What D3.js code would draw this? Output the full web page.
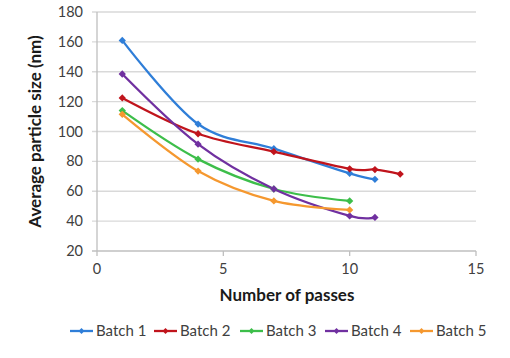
<!DOCTYPE html>
<html><head><meta charset="utf-8">
<script src="https://cdn.jsdelivr.net/npm/d3@7"></script>
<style>body{margin:0;background:#fff}svg{display:block}text{font-family:Lato,"Open Sans",sans-serif;fill:#404040}</style>
</head><body>
<svg id="c" width="510" height="358"></svg>
<script>
const seriesNames = ["Batch 1","Batch 2","Batch 3","Batch 4","Batch 5"];
const colors = ["#2F7ED8","#C0141C","#3DBE4A","#7030A0","#F5982F"];
const batch1X = [1,4,7,10,11];        const batch1Y = [161,105,88.5,72,68];
const batch2X = [1,4,7,10,11,12];     const batch2Y = [122.5,98.5,86.5,75,74.5,71.5];
const batch3X = [1,4,7,10];           const batch3Y = [114,81.5,61.5,53.5];
const batch4X = [1,4,7,10,11];        const batch4Y = [138.5,91.5,61.5,43.5,42.5];
const batch5X = [1,4,7,10];           const batch5Y = [111.5,73.5,53.5,47.5];
const xTicks = [0,5,10,15];
const yTicks = [20,40,60,80,100,120,140,160,180];
const xTitle = "Number of passes";
const yTitle = "Average particle size (nm)";

const allX = [batch1X,batch2X,batch3X,batch4X,batch5X];
const allY = [batch1Y,batch2Y,batch3Y,batch4Y,batch5Y];
const series = seriesNames.map((n,i)=>({name:n,color:colors[i],pts:allX[i].map((x,j)=>[x,allY[i][j]])}));

const svg = d3.select("#c");
const L=97,R=476,T=12,B=251;
const x = d3.scaleLinear().domain([0,15]).range([L,R]);
const y = d3.scaleLinear().domain([20,180]).range([B,T]);

svg.append("g").selectAll("line").data(yTicks).join("line")
  .attr("x1",L-5).attr("x2",R).attr("y1",d=>y(d)).attr("y2",d=>y(d))
  .attr("stroke",d=>d===20?"#BFBFBF":"#D9D9D9").attr("stroke-width",1.3);
svg.append("line").attr("x1",L).attr("x2",L).attr("y1",T).attr("y2",B).attr("stroke","#BFBFBF").attr("stroke-width",1.3);
svg.append("g").selectAll("line").data(xTicks).join("line")
  .attr("x1",d=>x(d)).attr("x2",d=>x(d)).attr("y1",B).attr("y2",B+5).attr("stroke","#BFBFBF").attr("stroke-width",1.3);

svg.append("g").selectAll("text").data(yTicks).join("text")
  .attr("x",L-14).attr("y",d=>y(d)).attr("dy","0.35em").attr("text-anchor","end")
  .attr("font-size",14.5).text(d=>d);
svg.append("g").selectAll("text").data(xTicks).join("text")
  .attr("x",d=>x(d)).attr("y",B+23).attr("text-anchor","middle")
  .attr("font-size",14.5).text(d=>d);

svg.append("text").attr("x",287).attr("y",301).attr("text-anchor","middle")
  .attr("font-size",17).attr("font-weight","bold").style("fill","#1a1a1a").text(xTitle);
svg.append("text").attr("transform",`translate(41,${(T+B)/2}) rotate(-90)`).attr("text-anchor","middle")
  .attr("font-size",17).attr("font-weight","bold").style("fill","#1a1a1a").text(yTitle);

const line = d3.line().x(d=>x(d[0])).y(d=>y(d[1])).curve(d3.curveCardinal.tension(0));
const diamond = d3.symbol().type(d3.symbolDiamond2).size(34);

const g = svg.append("g");
series.forEach(s=>{
  g.append("path").attr("d",line(s.pts)).attr("fill","none").attr("stroke",s.color).attr("stroke-width",2.3);
});
series.forEach(s=>{
  g.append("g").selectAll("path").data(s.pts).join("path")
    .attr("d",diamond).attr("transform",d=>`translate(${x(d[0])},${y(d[1])})`).attr("fill",s.color);
});

const legX = [70,154,240,325,410];
const lg = svg.append("g");
series.forEach((s,i)=>{
  const gg = lg.append("g").attr("transform",`translate(${legX[i]},331)`);
  gg.append("line").attr("x1",0).attr("x2",23).attr("stroke",s.color).attr("stroke-width",2.3);
  gg.append("path").attr("d",d3.symbol().type(d3.symbolDiamond2).size(22)).attr("transform","translate(11.5,0)").attr("fill",s.color);
  gg.append("text").attr("x",26).attr("dy","0.35em").attr("font-size",15).text(s.name);
});
</script>
</body></html>
